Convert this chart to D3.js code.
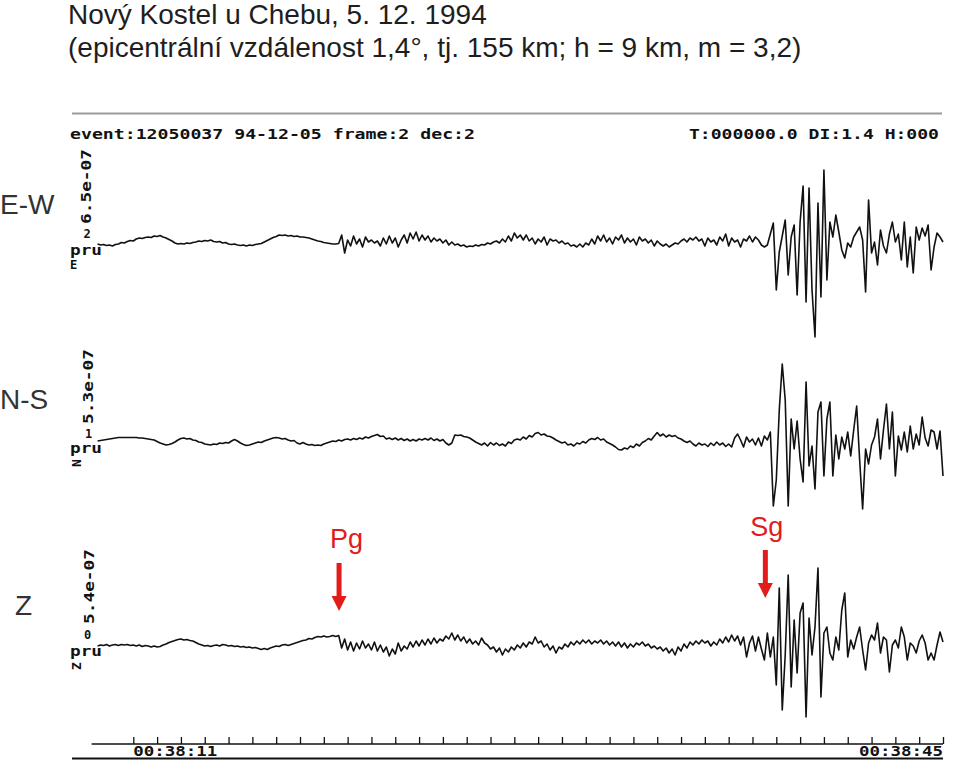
<!DOCTYPE html>
<html><head><meta charset="utf-8">
<script src="https://cdn.jsdelivr.net/npm/d3@7"></script>
<style>body{margin:0;background:#fff}svg{display:block}</style>
</head><body>
<script>
// ---- data ----
const sampleStart = 9.5;     // seconds after 00:38:00
const sampleStep = 0.125;    // seconds between samples
const ewAmp = [
-2,-3,-2.5,-3.5,-3,-4,-2.5,-2,-0.5,-1,
0.5,1.5,1,3,4,3.5,4.5,5,4.5,6,
5.5,6.5,5,4,2.5,1,-1,-2,-1.5,-2,
-1,-1.5,-0.5,0,1,0.5,1.5,1,2,0.5,
0,0.5,-1,-0.5,-2,-2.5,-2,-3,-3.5,-3,
-4,-3,-3.5,-2.5,-2,-1.5,0,1.5,3,4.5,
5.5,7,6.5,7,6,6.5,5.5,6,5,5,
4.5,4,3,2,1,0.5,-0.5,-1,-1.5,-2,
-2,-1.5,7,-11,2,-4,6,-2,3,-5,
5,0,2,-1,1,-4,4,-2,6,-1,
4,-5,2,7,-1,9,3,10,1,7,
2,6,0,4,1,3,-1,2,-3,0,
-3,-2,-4,-3,-5,-4,-4.5,-3,-4,-2.5,
-3,-1,-2,0,1,-1,3,0,6,1,
9,4,7,2,7,1,4,-2,3,0,
5,-3,3,1,2,-1,1,-2,-1,-4,
-3,-5,-2,-5,-1,-3,3,-2,6,1,
7,0,4,-2,5,2,7,-1,4,0,
3,-3,5,1,3,-1,2,-4,1,-2,
-4,-2,-5,-3,-1,-2,1,3,0,4,
2,5,1,3,-4,4,0,2,-3,5,
1,8,-4,4,0,2,-5,3,1,6,
0,5,2,-3,-5,-3,8,19,-48,-10,
6,22,-33,5,17,-53,20,56,-60,54,
-48,-95,39,-55,72,-38,20,5,27,10,
-8,-16,-1,-5,5,10,15,2,-50,42,
-11,0,-23,12,-4,-11,8,20,0,8,
-18,20,-25,5,-31,15,2,14,6,17,
-28,-5,9,5,0];
const nsAmp = [
-1,-0.5,0,0.5,1,1.5,2,2.5,2.5,2.5,
2.5,2.5,2.5,2.5,2,2,1.5,1,0.5,0,
-1.5,-3,-4,-5,-4.5,-3.5,-2,0,1.5,2,
1,1.5,0,-0.5,-2,-2.5,-4,-4.5,-5,-4,
-4.5,-3,-3.5,-2.5,-3,-1,0.5,-1,-3,-4.5,
-5.5,-5,-4,-3,-2,-2.5,-1,0,1,2,
2.5,2,1,1.5,0,-1,-0.5,-3,-4,-2.5,
-4,-5,-4.5,-5.5,-5,-5.5,-4,-3,-2,-1,
-1.5,0,-1,0.5,1,0,1.5,0.5,2,1,
3,2,3.5,4.5,5.5,3.5,4,1,2,0.5,
2,0,1.5,-0.5,1,-1,0.5,-1,1,0,
1.5,0,2,-0.5,1,-1,0.5,-3,-5,-3,
5,4.5,5,3.5,3,2,0,-2,-3.5,-5,
-3,-6,-2.5,-5,-3,-5.5,-4,-6,-2,-3.5,
0,1,0,3,1,4.5,3,6.5,7.5,5,
6,4,3.5,2,0,-1.5,-3,-2,-5,-4,
-6,-3,-4,-1.5,-3,0,1.5,0.5,2.5,0,
1,-2,-3.5,-5,-7,-9.5,-10,-8,-9,-6,
-7.5,-4,-6,-2.5,-1,1.5,0,4,7.5,4,
6,3,5,3.5,4.5,2,1,-1,-2.5,-1,
-4,-6,-3,-5,-4,-6.5,-3,-5.5,-2,-5,
-3,-6.5,-4,-7,2,6,0,-7,3,-2,
1,-5,2,-6,4,0,8,-66,-40,30,
76,40,-66,21,-9,19,-19,-42,58,-26,
-6,-49,28,38,-36,21,38,-36,5,-19,
3,-9,8,-16,10,34,-20,-69,-9,-24,
-5,3,21,-19,10,36,-9,28,-36,4,
-10,8,-12,14,-9,6,-5,23,2,-6,
10,8,-9,9,-36];
const zAmp = [
-1,0,-0.5,0.5,-1,0,0.5,-0.5,0.5,0,
0.5,-0.5,0,-1,0,-1.5,-0.5,-1,-2,-1,
-2,-1.5,0,1,2.5,3.5,4.5,5.5,6,5,
5.5,4.5,4,2.5,1,0,-1,-0.5,-1.5,-0.5,
0,-1,0.5,0,-1,-0.5,-1.5,-1,-2,-1.5,
-2.5,-2,-3,-2.5,-3.5,-4.5,-3.5,-4.5,-3,-2,
-1,-1.5,0,0.5,-0.5,0.5,1.5,2.5,3.5,4.5,
5,6.5,6,7.5,8.5,8,9,8,8.5,9.5,
8.5,9.5,-3,6,-5,3,-6,2,-4,4,
-3,1,-5,3,-6,0,-7,-2,-11,-4,
-9,2,-6,-1,-4,3,-2,4,-1,5,
0,6,1,7,2,6,4,9,6,12,
5,10,4,8,2,6,1,4,0,7,
2,0,-4,-2,-7,-3,-10,-4,-7,-2,
-5,0,-3,2,-2,3,1,8,2,4,
-2,1,-5,-1,-8,-2,-4,1,-2,3,
0,4,1,5,2,5,1,4,2,5,
1,4,0,3,-1,3,-2,2,-3,1,
-2,2,0,3,-1,1,-3,-1,-4,-2,
-6,-3,-8,-4,-10,-2,-6,1,-3,3,
0,4,1,5,2,4,-1,3,0,6,
2,8,3,10,4,9,0,8,-12,2,
9,-6,8,-4,-15,12,-12,8,-40,57,
-65,-10,70,-42,25,-28,32,42,-72,27,
-10,18,77,-52,12,18,-8,-15,8,-5,
35,52,-12,5,-4,8,18,-5,-25,2,
10,5,22,-8,8,5,-27,0,5,-3,
18,8,-15,2,-1,-8,4,10,2,-15,
-8,-15,0,13,3];
const componentNames = ["E-W", "N-S", "Z"];
const channelCodes = ["E", "N", "Z"];
const channelNumbers = ["2", "1", "0"];
const scaleLabels = ["6.5e-07", "5.3e-07", "5.4e-07"];
const phaseNames = ["Pg", "Sg"];
const phaseTimes = [19.64, 37.54];
const tickSeconds = d3.range(11, 46);
const tickLabelSeconds = [11, 45];
const tickLabels = ["00:38:11", "00:38:45"];
const titleLines = ["Nový Kostel u Chebu, 5. 12. 1994",
  "(epicentrální vzdálenost 1,4°, tj. 155 km; h = 9 km, m = 3,2)"];
const headerLeft = "event:12050037 94-12-05 frame:2 dec:2";
const headerRight = "T:000000.0 DI:1.4 H:000";

// ---- drawing ----
const W = 960, H = 764;
const svg = d3.select("body").append("svg").attr("width", W).attr("height", H);
const mono = "'DejaVu Sans Mono', 'Liberation Mono', monospace";
const sans = "'Liberation Sans', Arial, sans-serif";
const RED = "#e21b1b";
const INK = "#111";

const x = d3.scaleLinear().domain([11, 45]).range([133.3, 943]);

function monoText(sel, txt, len, size) {
  const t = sel.append("text").attr("font-family", mono).attr("font-weight", "bold")
    .attr("font-size", size || 14).attr("fill", INK).text(txt);
  if (len) t.attr("textLength", len).attr("lengthAdjust", "spacingAndGlyphs");
  return t;
}

// title
svg.selectAll("text.title").data(titleLines).join("text")
  .attr("class", "title").attr("x", 68).attr("y", (d, i) => [24, 57][i])
  .attr("font-family", sans).attr("font-size", 28).attr("fill", "#1e1e1e").text(d => d);

// top rule
svg.append("line").attr("x1", 72).attr("x2", 942).attr("y1", 113.5).attr("y2", 113.5)
  .attr("stroke", "#9a9a9a").attr("stroke-width", 2);

// header line
monoText(svg, headerLeft, 405, 14).attr("x", 70).attr("y", 139);
monoText(svg, headerRight, 250, 14).attr("x", 689).attr("y", 139);

// traces
const baselines = [242, 440, 645];
const series = [ewAmp, nsAmp, zAmp];
const sideLabelY = [214, 409, 615];
const sideLabelX = [0, 0, 15];
const scaleLabelPos = [[91, 224], [93, 424], [94, 624]];
const numPos = [[87, 238], [88.5, 438], [87.5, 639]];
const pruY = [255, 453, 656];

series.forEach((vals, k) => {
  const y = d3.scaleLinear().domain([-100, 100]).range([baselines[k] + 100, baselines[k] - 100]);
  const line = d3.line().x((d, i) => x(sampleStart + i * sampleStep)).y(d => y(d));
  svg.append("path").datum(vals).attr("d", line).attr("fill", "none")
    .attr("stroke", INK).attr("stroke-width", 1.6).attr("stroke-linejoin", "round");

  svg.append("text").attr("x", sideLabelX[k]).attr("y", sideLabelY[k]).attr("font-family", sans)
    .attr("font-size", 28).attr("fill", "#333").text(componentNames[k]);

  monoText(svg, scaleLabels[k], 75, 14)
    .attr("transform", `translate(${scaleLabelPos[k][0]},${scaleLabelPos[k][1]}) rotate(-90)`);

  monoText(svg, channelNumbers[k], null, 12).attr("x", numPos[k][0]).attr("y", numPos[k][1])
    .attr("text-anchor", "middle");

  monoText(svg, "pru", 32, 13.5).attr("x", 70).attr("y", pruY[k]);

  if (k === 0) {
    monoText(svg, channelCodes[k], null, 12).attr("x", 70).attr("y", pruY[k] + 14);
  } else {
    monoText(svg, channelCodes[k], null, 13)
      .attr("transform", `translate(81,${pruY[k] + 10}) rotate(-90)`).attr("text-anchor", "middle");
  }
});

// phase arrows
const phaseTextBase = [548, 536];
const phaseShaftTop = [563, 550];
const phaseTextDx = [-9, -15];
phaseNames.forEach((p, j) => {
  const ax = x(phaseTimes[j]);
  const top = phaseShaftTop[j], tip = top + 48;
  svg.append("text").attr("x", ax + phaseTextDx[j]).attr("y", phaseTextBase[j])
    .attr("font-family", sans).attr("font-size", 27).attr("fill", RED).text(p);
  svg.append("rect").attr("x", ax - 2.5).attr("y", top).attr("width", 5).attr("height", 35).attr("fill", RED);
  svg.append("path").attr("d", `M${ax - 7.5},${tip - 15} L${ax + 7.5},${tip - 15} L${ax},${tip} Z`).attr("fill", RED);
});

// time axis
const axisY = 744;
const axis = d3.axisTop(x).tickValues(tickSeconds).tickSize(7).tickFormat("");
const gA = svg.append("g").attr("transform", `translate(0,${axisY})`).call(axis);
gA.select(".domain").remove();
gA.selectAll(".tick line").attr("stroke", INK).attr("stroke-width", 1.3);
svg.append("line").attr("x1", x(9.25)).attr("x2", x(45)).attr("y1", axisY).attr("y2", axisY)
  .attr("stroke", INK).attr("stroke-width", 1.5);
tickLabels.forEach((t, j) => {
  monoText(svg, t, 84, 13.5).attr("x", j === 0 ? x(tickLabelSeconds[j]) : x(tickLabelSeconds[j]) - 84)
    .attr("y", 756);
});
svg.append("line").attr("x1", 72).attr("x2", 943).attr("y1", 758.5).attr("y2", 758.5)
  .attr("stroke", INK).attr("stroke-width", 2);
</script>
</body></html>
